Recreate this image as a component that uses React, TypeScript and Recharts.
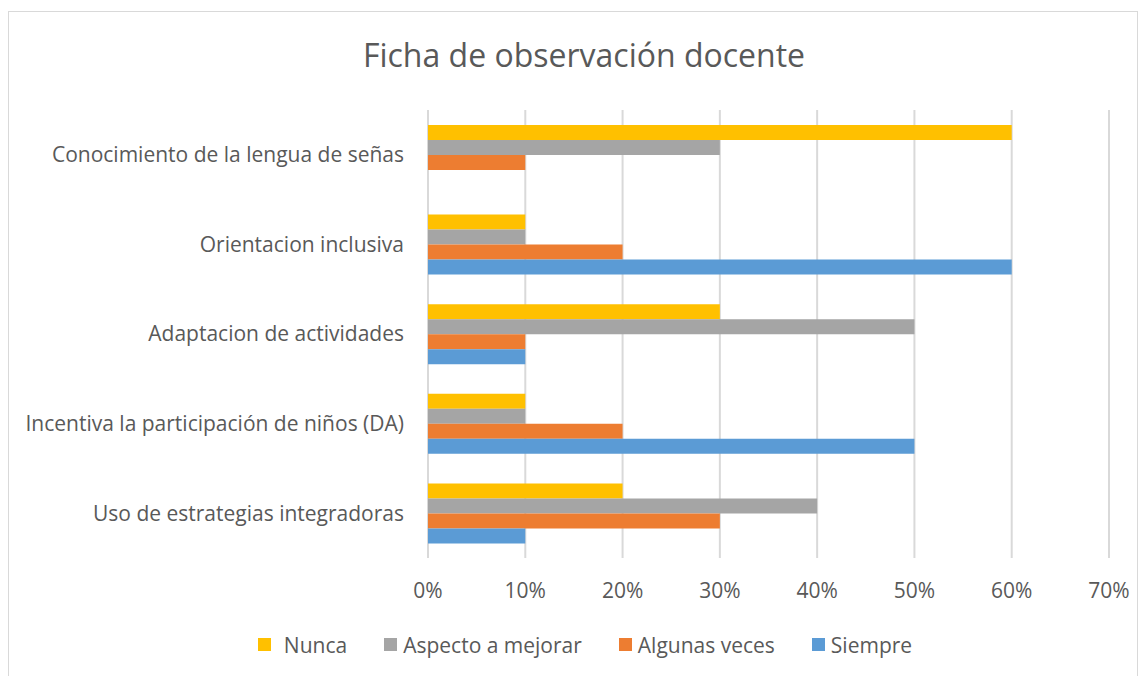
import { BarChart, Bar, XAxis, YAxis, CartesianGrid, Legend } from "recharts";

const categories = [
  "Conocimiento de la lengua de señas",
  "Orientacion inclusiva",
  "Adaptacion de actividades",
  "Incentiva la participación de niños (DA)",
  "Uso de estrategias integradoras",
];

const seriesNames = ["Nunca", "Aspecto a mejorar", "Algunas veces", "Siempre"];

const nunca = [60, 10, 30, 10, 20];
const aspecto = [30, 10, 50, 10, 40];
const algunas = [10, 20, 10, 20, 30];
const siempre = [0, 60, 10, 50, 10];

const xTicks = [0, 10, 20, 30, 40, 50, 60, 70];

const data = categories.map((name, i) => ({
  name,
  nunca: nunca[i],
  aspecto: aspecto[i],
  algunas: algunas[i],
  siempre: siempre[i],
}));

const FONT = "'Open Sans', sans-serif";
const TEXT = "#595959";

function LegendContent(props: any) {
  const items = [...(props.payload || [])].sort(
    (a: any, b: any) => seriesNames.indexOf(a.value) - seriesNames.indexOf(b.value)
  );
  return (
    <div style={{ display: "flex", justifyContent: "center", fontFamily: FONT, fontSize: 21, color: TEXT, paddingLeft: 52 }}>
      {items.map((it: any, i: number) => (
        <div key={it.value} style={{ display: "flex", alignItems: "center", marginLeft: i === 0 ? 0 : 37 }}>
          <span
            style={{
              width: 13,
              height: 13,
              background: it.color,
              display: "inline-block",
              marginRight: i === 0 ? 13 : 6,
              marginTop: -2,
            }}
          />
          <span>{it.value}</span>
        </div>
      ))}
    </div>
  );
}

export default function App() {
  return (
    <div
      style={{
        position: "relative",
        width: 1130,
        height: 680,
        marginTop: 3,
        border: "1px solid #d9d9d9",
        boxSizing: "border-box",
        background: "#fff",
      }}
    >
      <div
        style={{
          position: "absolute",
          left: 575,
          top: 23,
          transform: "translateX(-50%)",
          whiteSpace: "nowrap",
          fontFamily: FONT,
          fontSize: 32,
          lineHeight: "40px",
          color: TEXT,
        }}
      >
        Ficha de observación docente
      </div>
      <BarChart
        width={1128}
        height={664}
        data={data}
        layout="vertical"
        margin={{ top: 98, right: 28, left: 0, bottom: 17 }}
        barCategoryGap={15}
        barGap={0}
      >
        <CartesianGrid horizontal={false} stroke="#d9d9d9" strokeWidth={2} />
        <XAxis
          type="number"
          domain={[0, 70]}
          ticks={xTicks}
          tickFormatter={(v) => `${v}%`}
          axisLine={false}
          tickLine={false}
          tickSize={0}
          tickMargin={25}
          height={73}
          tick={{ fill: TEXT, fontSize: 21, fontFamily: FONT }}
        />
        <YAxis
          type="category"
          dataKey="name"
          width={419}
          axisLine={false}
          tickLine={false}
          tickSize={0}
          tickMargin={24}
          tick={{ fill: TEXT, fontSize: 21, fontFamily: FONT }}
        />
        <Legend verticalAlign="bottom" content={<LegendContent />} />
        <Bar dataKey="nunca" name={seriesNames[0]} fill="#FFC000" isAnimationActive={false} />
        <Bar dataKey="aspecto" name={seriesNames[1]} fill="#A5A5A5" isAnimationActive={false} />
        <Bar dataKey="algunas" name={seriesNames[2]} fill="#ED7D31" isAnimationActive={false} />
        <Bar dataKey="siempre" name={seriesNames[3]} fill="#5B9BD5" isAnimationActive={false} />
      </BarChart>
    </div>
  );
}
